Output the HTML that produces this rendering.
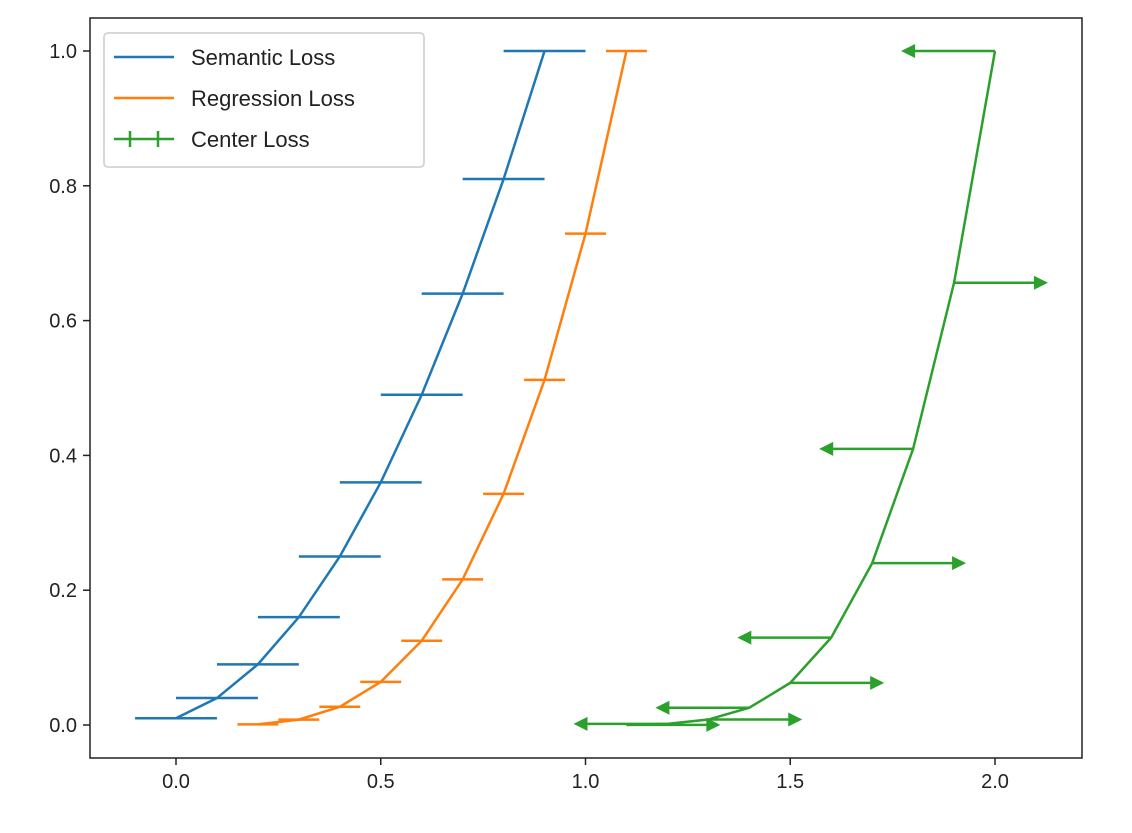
<!DOCTYPE html>
<html><head><meta charset="utf-8"><style>
body{margin:0;background:#fff;}
svg text{font-family:"Liberation Sans","DejaVu Sans",sans-serif;fill:#222;}
</style></head><body>
<svg id="chart" width="1132" height="828" xmlns="http://www.w3.org/2000/svg">
<rect x="0" y="0" width="1132" height="828" fill="#fff"/>
<g id="plot"></g>
<rect x="90" y="18" width="992" height="740" fill="none" stroke="#222" stroke-width="1.5"/>
<g id="axes"></g>
<g>
<rect x="104" y="33" width="320" height="134" rx="4" fill="#fff" stroke="#ccc" stroke-width="1.5"/>
<g><line x1="114" y1="57" x2="174" y2="57" stroke="#1f77b4" stroke-width="2.5"/><text x="191" y="65" font-size="22">Semantic Loss</text></g>
<g><line x1="114" y1="98" x2="174" y2="98" stroke="#ff7f0e" stroke-width="2.5"/><text x="191" y="106" font-size="22">Regression Loss</text></g>
<g><line x1="114" y1="139" x2="174" y2="139" stroke="#2ca02c" stroke-width="2.5"/><line x1="130" y1="131" x2="130" y2="147" stroke="#2ca02c" stroke-width="2.5"/><line x1="158" y1="131" x2="158" y2="147" stroke="#2ca02c" stroke-width="2.5"/><text x="191" y="147" font-size="22">Center Loss</text></g>
</g>
</svg>
<script>
const baseX = [0,0.1,0.2,0.3,0.4,0.5,0.6,0.7,0.8,0.9];
const semanticY = [0.01,0.04,0.09,0.16,0.25,0.36,0.49,0.64,0.81,1.0];
const regressionY = [0.001,0.008,0.027,0.064,0.125,0.216,0.343,0.512,0.729,1.0];
const centerY = [0.0001,0.0016,0.0081,0.0256,0.0625,0.1296,0.2401,0.4096,0.6561,1.0];
const regressionOffset = 0.2;
const centerOffset = 1.1;
const semanticErr = 0.1;
const regressionErr = 0.05;
const centerErr = 0.2;
const centerDir = [1,-1,1,-1,1,-1,1,-1,1,-1];
const xTicks = [0.0,0.5,1.0,1.5,2.0];
const yTicks = [0.0,0.2,0.4,0.6,0.8,1.0];
const xTickLabels = ["0.0","0.5","1.0","1.5","2.0"];
const yTickLabels = ["0.0","0.2","0.4","0.6","0.8","1.0"];

const NS="http://www.w3.org/2000/svg";
function sx(v){return 176+v*409.5;}
function sy(v){return 725-v*674;}
function mk(tag,attrs,parent){const e=document.createElementNS(NS,tag);for(const k in attrs)e.setAttribute(k,attrs[k]);parent.appendChild(e);return e;}
const plot=document.getElementById('plot'), axes=document.getElementById('axes');

function series(xs,ys,color,name){
  const pts=xs.map((x,i)=>sx(x)+','+sy(ys[i])).join(' ');
  const l=mk('polyline',{points:pts,fill:'none',stroke:color,'stroke-width':2.5},plot);
  
  
}
const semX=baseX.slice();
semanticY.forEach((y,i)=>{
  const e=mk('line',{x1:sx(semX[i]-semanticErr),x2:sx(semX[i]+semanticErr),y1:sy(y),y2:sy(y),stroke:'#1f77b4','stroke-width':2.5},plot);
  
  
});
series(semX,semanticY,'#1f77b4','semantic');
const regX=baseX.map(x=>x+regressionOffset);
regressionY.forEach((y,i)=>{
  const e=mk('line',{x1:sx(regX[i]-regressionErr),x2:sx(regX[i]+regressionErr),y1:sy(y),y2:sy(y),stroke:'#ff7f0e','stroke-width':2.5},plot);
  
  
});
series(regX,regressionY,'#ff7f0e','regression');
const cenX=baseX.map(x=>x+centerOffset);
centerY.forEach((y,i)=>{
  const d=centerDir[i], x0=sx(cenX[i]), x1=sx(cenX[i]+d*centerErr), yy=sy(y);
  const e=mk('line',{x1:x0,x2:x1,y1:yy,y2:yy,stroke:'#2ca02c','stroke-width':2.5},plot);
  
  
  const a=mk('polygon',{points:`${x1+d*12},${yy} ${x1-d*2},${yy-7} ${x1-d*2},${yy+7}`,fill:'#2ca02c'},plot);
  
  
});
series(cenX,centerY,'#2ca02c','center');
xTicks.forEach((t,i)=>{
  const x=sx(t);
  const l=mk('line',{x1:x,x2:x,y1:758,y2:765,stroke:'#222','stroke-width':1.5},axes);
  
  
  const tx=mk('text',{x:x,y:788,'font-size':20,'text-anchor':'middle'},axes);
  tx.textContent=xTickLabels[i];
  
  
});
yTicks.forEach((t,i)=>{
  const y=sy(t);
  const l=mk('line',{x1:83,x2:90,y1:y,y2:y,stroke:'#222','stroke-width':1.5},axes);
  
  
  const tx=mk('text',{x:77,y:y+7,'font-size':20,'text-anchor':'end'},axes);
  tx.textContent=yTickLabels[i];
  
  
});
</script>
</body></html>
